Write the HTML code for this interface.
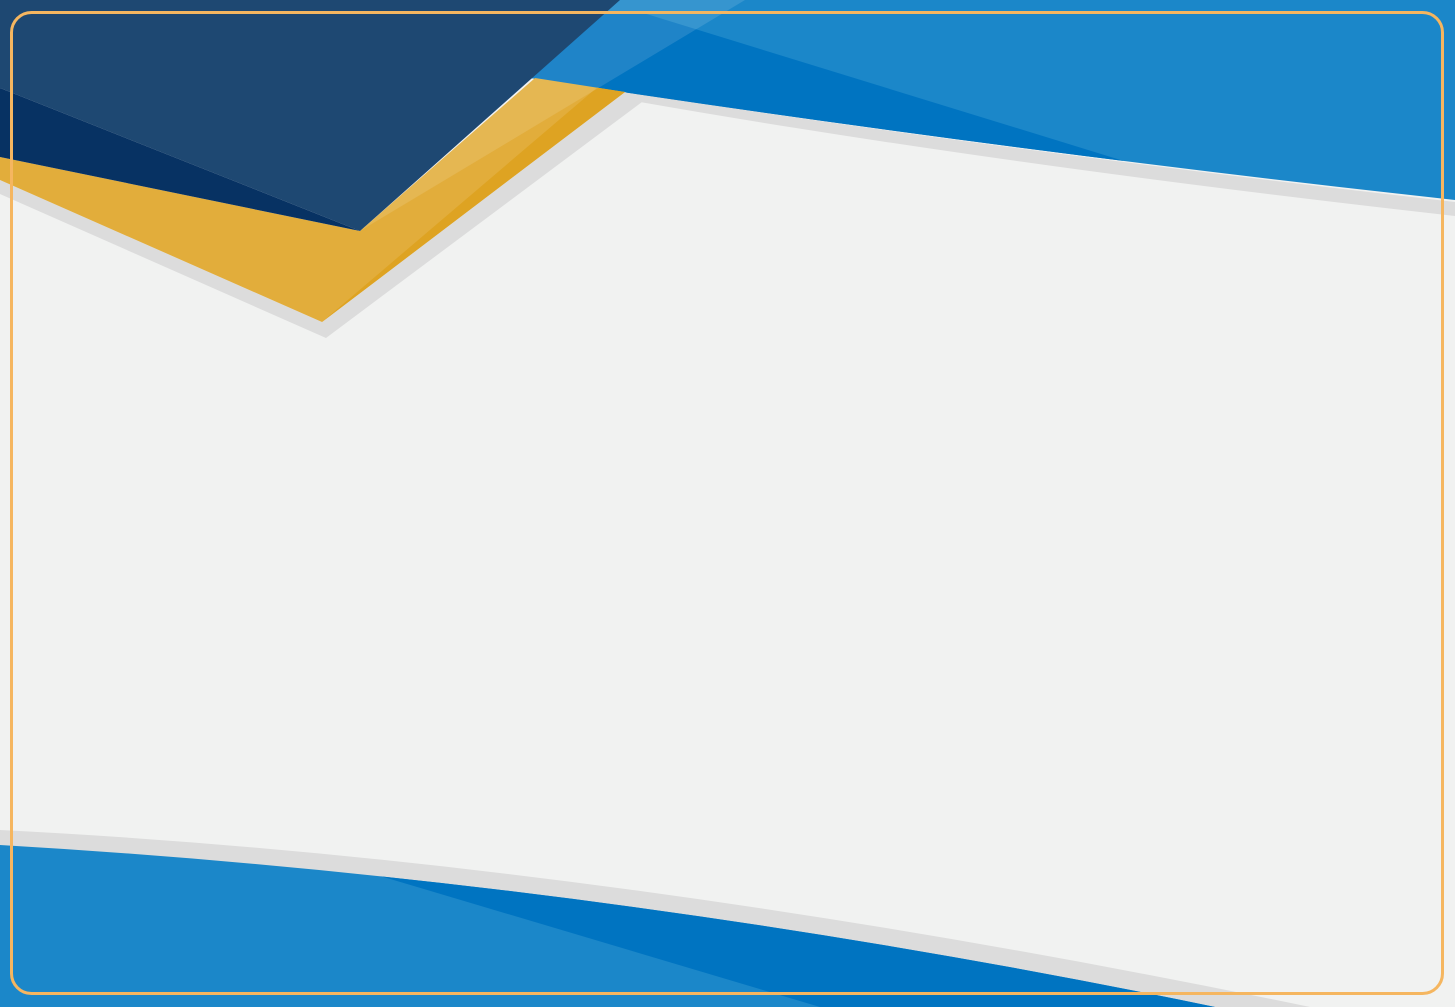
<!DOCTYPE html>
<html>
<head>
<meta charset="utf-8">
<style>
html,body{margin:0;padding:0;width:1455px;height:1007px;overflow:hidden;background:#f1f2f1;}
svg{display:block;}
</style>
</head>
<body>
<svg width="1455" height="1007" viewBox="0 0 1455 1007">
  <defs>
    <clipPath id="topBlueClip"><path d="M530,78 Q1000,150 1455,200 L1455,0 L600,0 Z"/></clipPath>
    <clipPath id="botBlueClip"><path d="M0,845 Q600,880 1215,1007 L0,1007 Z"/></clipPath>
    <clipPath id="yellowClip"><path d="M0,157 L360,231 L535,78 L625,92 L322,322 L0,180 Z"/></clipPath>
  </defs>
  <rect x="0" y="0" width="1455" height="1007" fill="#f1f2f1"/>

  <path d="M625,92 Q1000,150 1455,202 L1455,216 Q1000,165 640,102 Z" fill="#dcdcdc"/>
  <path d="M530,78 Q1000,150 1455,200 L1455,0 L600,0 Z" fill="#1b87c9"/>
  <polygon points="640,12 1140,166 500,166 500,12" fill="#0074c1" clip-path="url(#topBlueClip)"/>

  <path d="M0,180 L322,322 L625,92 L642,102 L326,338 L0,194 Z" fill="#dcdcdc"/>

  <path d="M0,157 L360,231 L535,78 L625,92 L322,322 L0,180 Z" fill="#e2ad3b"/>
  <polygon points="322,322 600,85 700,85 700,340" fill="#dea322" clip-path="url(#yellowClip)"/>

  <path d="M0,0 L620,0 L360,231 L0,88 Z" fill="#1e4872"/>
  <path d="M0,88 L360,231 L0,157 Z" fill="#073263"/>

  <path d="M360,231 L745,0 L620,0 Z" fill="#ffffff" opacity="0.12"/>

  <path d="M0,830 Q600,860 1310,1007 L0,1007 Z" fill="#dcdcdc"/>
  <path d="M0,845 Q600,880 1215,1007 L0,1007 Z" fill="#1b87c9"/>
  <polygon points="340,864 820,1007 1300,1007 1300,840 340,840" fill="#0074c1" clip-path="url(#botBlueClip)"/>

  <rect x="11.5" y="12.5" width="1431" height="981" rx="20" ry="20" fill="none" stroke="#f5b660" stroke-width="3"/>
</svg>
</body>
</html>
